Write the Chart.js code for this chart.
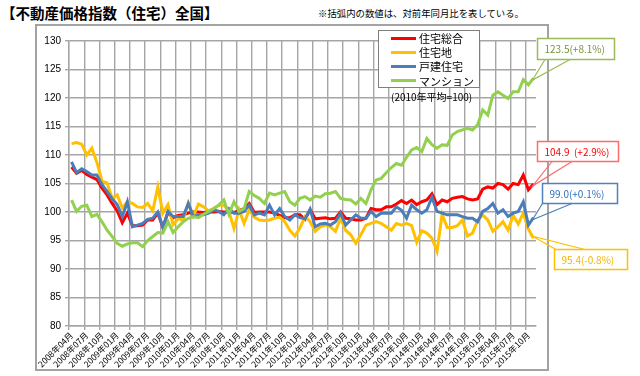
<!DOCTYPE html>
<html lang="ja">
<head>
<meta charset="UTF-8">
<title>不動産価格指数（住宅）全国</title>
<script src="https://cdn.jsdelivr.net/npm/chart.js@4.4.1/dist/chart.umd.min.js"></script>
<style>
    body {
        margin: 0;
        width: 640px;
        height: 376px;
        background: #fff;
        position: relative;
        overflow: hidden;
        font-family: "Noto Sans CJK JP", sans-serif;
        color: #000;
    }
    .title {
        position: absolute;
        left: 1px;
        top: 2px;
        font-size: 14.5px;
        line-height: 22px;
        font-weight: bold;
        white-space: nowrap;
    }
    .note {
        position: absolute;
        left: 318px;
        top: 6px;
        font-size: 9.4px;
        line-height: 14px;
        white-space: nowrap;
    }
    .frame {
        position: absolute;
        left: 35px;
        top: 24px;
        width: 514px;
        height: 347px;
        border: 2px solid #a3a3a3;
        box-sizing: border-box;
    }
    #chart {
        position: absolute;
        left: 0;
        top: 0;
    }
    .legend {
        position: absolute;
        left: 378px;
        top: 30px;
        width: 102px;
        height: 58px;
        border: 1.5px solid #7f7f7f;
        background: #fff;
        box-sizing: border-box;
        padding-top: 0px;
    }
    .legend .item {
        display: flex;
        align-items: center;
        height: 14.2px;
        font-size: 11px;
        white-space: nowrap;
    }
    .legend .swatch {
        display: inline-block;
        width: 25px;
        height: 3px;
        margin-left: 12px;
        margin-right: 3px;
    }
    .base {
        position: absolute;
        left: 391px;
        top: 90px;
        font-size: 10px;
        line-height: 14px;
        white-space: nowrap;
    }
</style>
</head>
<body>
<div class="title">【不動産価格指数（住宅）全国】</div>
<div class="note">※括弧内の数値は、対前年同月比を表している。</div>
<div class="frame"></div>
<canvas id="chart" width="640" height="376"></canvas>
<div class="legend" id="legend"></div>
<div class="base">(2010年平均=100)</div>

<script>
// 月ラベル（2008年04月〜2015年11月）
const months = [
    '2008年04月', '2008年05月', '2008年06月', '2008年07月', '2008年08月', '2008年09月', '2008年10月', '2008年11月', '2008年12月',
    '2009年01月', '2009年02月', '2009年03月', '2009年04月', '2009年05月', '2009年06月', '2009年07月', '2009年08月', '2009年09月', '2009年10月', '2009年11月', '2009年12月',
    '2010年01月', '2010年02月', '2010年03月', '2010年04月', '2010年05月', '2010年06月', '2010年07月', '2010年08月', '2010年09月', '2010年10月', '2010年11月', '2010年12月',
    '2011年01月', '2011年02月', '2011年03月', '2011年04月', '2011年05月', '2011年06月', '2011年07月', '2011年08月', '2011年09月', '2011年10月', '2011年11月', '2011年12月',
    '2012年01月', '2012年02月', '2012年03月', '2012年04月', '2012年05月', '2012年06月', '2012年07月', '2012年08月', '2012年09月', '2012年10月', '2012年11月', '2012年12月',
    '2013年01月', '2013年02月', '2013年03月', '2013年04月', '2013年05月', '2013年06月', '2013年07月', '2013年08月', '2013年09月', '2013年10月', '2013年11月', '2013年12月',
    '2014年01月', '2014年02月', '2014年03月', '2014年04月', '2014年05月', '2014年06月', '2014年07月', '2014年08月', '2014年09月', '2014年10月', '2014年11月', '2014年12月',
    '2015年01月', '2015年02月', '2015年03月', '2015年04月', '2015年05月', '2015年06月', '2015年07月', '2015年08月', '2015年09月', '2015年10月', '2015年11月'
];

// 系列名
const seriesNames = ['住宅総合', '住宅地', '戸建住宅', 'マンション'];

// 住宅総合
const totalIndex = [
    107.9, 106.8, 107.3, 106.6, 106.1, 105.7, 104.2, 103.0, 101.5, 100.2, 98.1, 99.8,
    97.6, 97.6, 97.7, 98.6, 98.6, 99.8, 97.3, 99.9, 99.0, 99.4, 99.5, 99.8,
    100.0, 100.0, 99.9, 100.0, 100.0, 100.1, 100.0, 100.0, 99.9, 100.3, 100.6, 101.5,
    99.9, 100.0, 100.0, 100.0, 99.8, 99.4, 99.0, 99.0, 99.5, 99.5, 98.7, 100.4,
    98.8, 98.9, 99.0, 98.8, 98.9, 100.0, 98.9, 98.8, 98.6, 98.6, 98.9, 100.6,
    100.4, 100.4, 100.9, 100.9, 101.4, 102.0, 101.5, 102.1, 101.3, 101.8, 102.1, 103.2,
    101.3, 102.1, 101.8, 102.4, 102.6, 102.7, 102.3, 102.1, 102.3, 104.0, 104.4, 104.2,
    105.0, 104.8, 104.0, 105.0, 104.8, 106.5, 103.9, 104.9
];

// 住宅地
const landIndex = [
    112.0, 112.2, 111.9, 110.0, 111.2, 108.7, 105.4, 105.1, 102.4, 103.0, 100.7, 101.8,
    101.5, 100.9, 100.8, 101.5, 100.2, 104.4, 99.8, 101.3, 97.8, 98.8, 98.6, 101.6,
    99.3, 101.4, 100.9, 100.2, 100.6, 101.2, 101.2, 100.1, 97.1, 100.4, 98.0, 100.4,
    99.1, 98.6, 98.5, 98.6, 98.9, 99.1, 98.3, 96.8, 95.8, 97.2, 99.2, 98.3,
    96.6, 97.4, 97.7, 97.4, 96.6, 98.9, 96.8, 96.0, 94.5, 96.0, 97.7, 98.0,
    98.3, 98.0, 97.4, 96.8, 98.0, 97.7, 98.0, 97.6, 94.7, 96.7, 96.3, 95.4,
    93.1, 99.6, 97.3, 97.3, 97.6, 98.6, 95.8, 96.3, 98.5, 99.5, 98.6, 96.6,
    97.4, 98.3, 96.8, 99.4, 97.9, 99.8, 97.0, 95.4
];

// 戸建住宅
const houseIndex = [
    108.8, 106.9, 107.6, 107.1, 106.5, 106.5, 104.8, 103.6, 102.3, 101.3, 99.2, 101.8,
    97.4, 97.7, 98.0, 98.7, 98.9, 100.0, 97.3, 100.1, 99.2, 99.2, 99.2, 101.5,
    99.2, 99.5, 99.5, 99.8, 100.4, 100.1, 99.5, 100.6, 99.8, 99.8, 100.1, 101.2,
    99.5, 99.8, 99.5, 101.2, 99.5, 100.6, 99.2, 98.6, 99.5, 99.0, 98.8, 100.5,
    97.4, 97.9, 98.0, 97.7, 98.3, 99.8, 97.7, 98.6, 99.5, 98.9, 98.9, 100.1,
    99.2, 99.8, 99.8, 99.8, 100.9, 100.3, 98.9, 101.2, 100.4, 99.8, 100.4, 102.6,
    100.1, 99.8, 99.5, 99.5, 99.5, 99.2, 98.9, 98.9, 98.3, 100.1, 100.6, 101.5,
    99.8, 100.4, 99.2, 99.8, 100.1, 101.8, 97.7, 99.0
];

// マンション
const condoIndex = [
    102.1, 100.1, 101.0, 101.2, 99.2, 99.6, 98.3, 96.8, 95.7, 94.5, 94.0, 94.4,
    94.6, 94.6, 93.9, 95.0, 95.7, 96.4, 96.3, 98.3, 96.4, 97.4, 98.3, 98.9,
    99.2, 99.0, 99.6, 100.1, 100.6, 101.2, 102.1, 99.6, 101.8, 100.1, 100.6, 103.6,
    102.9, 102.4, 101.5, 103.3, 103.0, 103.3, 103.6, 101.8, 101.2, 102.4, 102.7, 102.1,
    102.8, 102.6, 103.2, 103.3, 103.6, 102.4, 102.2, 102.1, 101.4, 102.4, 101.5, 103.9,
    105.6, 105.9, 106.9, 107.8, 108.5, 108.2, 109.6, 110.9, 111.3, 110.6, 112.9, 111.8,
    111.2, 111.8, 111.7, 113.5, 114.1, 114.4, 114.7, 114.4, 115.3, 117.9, 117.0, 120.5,
    121.1, 120.5, 119.9, 121.1, 121.1, 123.2, 122.3, 123.5
];

// 対前年同月比（最新月）
const latestYoY = ['+2.9%', '-0.8%', '+0.1%', '+8.1%'];

// Y軸の目盛
const yMin = 80;
const yMax = 130;
const yStep = 5;

const COLORS = ['#FF0000', '#FFC000', '#4A7EBB', '#92D050'];

// 吹き出しの見た目（位置は画面座標）
const CALLOUTS = [
    { dataset: 0, box: [537.5, 141.5, 81, 20], base: [[552, 161.5], [572, 161.5]], border: '#FF6B6B', text: '#FF0000', gap: '  ' },
    { dataset: 1, box: [554.5, 249.5, 73, 20], base: [[556, 249.5], [585, 249.5]], border: '#FFC000', text: '#F5B400', gap: '' },
    { dataset: 2, box: [542.5, 183.5, 75, 20], base: [[542.5, 203.5], [572, 203.5]], border: '#4F81BD', text: '#2F6EBA', gap: '' },
    { dataset: 3, box: [537.5, 38.5, 77, 21], base: [[545, 59.5], [570, 59.5]], border: '#9BBB59', text: '#77933C', gap: '' }
];

const seriesData = [totalIndex, landIndex, houseIndex, condoIndex];

// 凡例（HTML）
const legendEl = document.getElementById('legend');
seriesNames.forEach((name, i) => {
    const item = document.createElement('div');
    item.className = 'item';
    item.innerHTML = `<span class="swatch" style="background:${COLORS[i]}"></span>${name}`;
    legendEl.appendChild(item);
});

// 吹き出しプラグイン
const calloutPlugin = {
    id: 'callouts',
    afterDraw(chart) {
        const ctx = chart.ctx;
        ctx.save();
        CALLOUTS.forEach(c => {
            const meta = chart.getDatasetMeta(c.dataset);
            const pt = meta.data[meta.data.length - 1];
            const values = seriesData[c.dataset];
            const tipX = pt.x - 1;
            const tipY = pt.y + (c.dataset === 1 ? -2 : 2);

            ctx.lineWidth = 1.2;
            ctx.strokeStyle = c.border;
            ctx.beginPath();
            ctx.moveTo(c.base[0][0], c.base[0][1]);
            ctx.lineTo(tipX, tipY);
            ctx.lineTo(c.base[1][0], c.base[1][1]);
            ctx.stroke();

            const [bx, by, bw, bh] = c.box;
            ctx.fillStyle = '#fff';
            ctx.fillRect(bx, by, bw, bh);
            ctx.lineWidth = 1.5;
            ctx.strokeRect(bx, by, bw, bh);

            const label = values[values.length - 1].toFixed(1) + c.gap + '(' + latestYoY[c.dataset] + ')';
            ctx.fillStyle = c.text;
            ctx.font = '10px "Noto Sans CJK JP"';
            ctx.textAlign = 'left';
            ctx.textBaseline = 'middle';
            ctx.fillText(label, bx + 7, by + bh / 2 + 0.5);
        });
        ctx.restore();
    }
};

const GRID = '#a6a6a6';

new Chart(document.getElementById('chart'), {
    type: 'line',
    data: {
        labels: months,
        datasets: seriesNames.map((name, i) => ({
            label: name,
            data: seriesData[i],
            borderColor: COLORS[i],
            backgroundColor: COLORS[i],
            borderWidth: 3,
            pointRadius: 0,
            tension: 0,
            order: 4 - i
        }))
    },
    options: {
        responsive: false,
        animation: false,
        layout: {
            padding: { left: 35, top: 41, right: 104, bottom: 6 }
        },
        plugins: {
            legend: { display: false },
            tooltip: { enabled: false }
        },
        scales: {
            x: {
                offset: true,
                afterFit: (scale) => { scale.height = 44; },
                grid: {
                    offset: true,
                    lineWidth: 1.4,
                    tickLength: 4,
                    color: (c) => (c.index % 3 === 0 ? GRID : 'rgba(0,0,0,0)')
                },
                border: { color: GRID, width: 1.4 },
                ticks: {
                    autoSkip: false,
                    maxRotation: 45,
                    minRotation: 45,
                    padding: 0,
                    color: '#000',
                    font: { family: '"Noto Sans CJK JP"', size: 8.5 },
                    callback: function (value, index) {
                        return index % 3 === 0 ? months[index] : '';
                    }
                }
            },
            y: {
                min: yMin,
                max: yMax,
                afterFit: (scale) => { scale.width = 34; },
                grid: {
                    color: GRID,
                    lineWidth: 1.4,
                    tickLength: 4
                },
                border: { color: GRID, width: 1.4 },
                ticks: {
                    stepSize: yStep,
                    padding: 4,
                    color: '#000',
                    font: { family: 'Arial, "Liberation Sans"', size: 10 }
                }
            }
        }
    },
    plugins: [calloutPlugin]
});
</script>
</body>
</html>
